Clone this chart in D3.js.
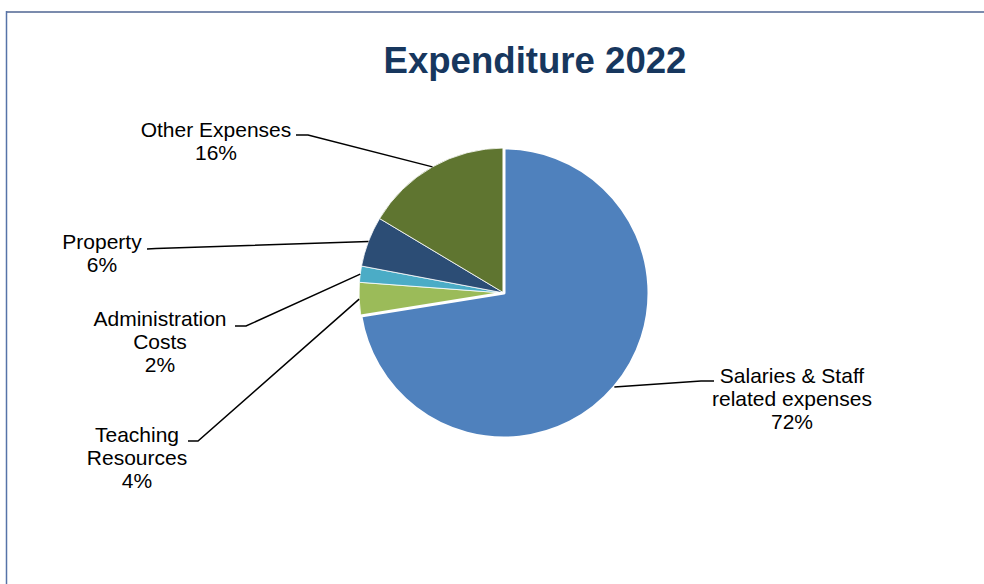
<!DOCTYPE html>
<html>
<head>
<meta charset="utf-8">
<script src="https://cdn.jsdelivr.net/npm/d3@7"></script>
<style>
  html, body { margin: 0; padding: 0; background: #fff; }
  svg { display: block; font-family: "Liberation Sans", Arial, sans-serif; }
</style>
</head>
<body>
<div id="chart"></div>
<script>
// Chart data
const categories = ["Salaries & Staff related expenses", "Teaching Resources", "Administration Costs", "Property", "Other Expenses"];
const labelLines = [["Salaries & Staff", "related expenses"], ["Teaching", "Resources"], ["Administration", "Costs"], ["Property"], ["Other Expenses"]];
const shares = [72.4, 3.7, 1.8, 5.6, 16.4];
const colors = ["#4f81bd", "#9bbb59", "#4bacc6", "#2c4d75", "#5f7530"];
const title = "Expenditure 2022";

const width = 984, height = 584;
const cx = 504, cy = 293, radius = 145;

// where each data label sits: text centre x, first baseline y, leader elbow and end
const labelLayout = [
  { x: 792, y: 383, elbow: [701, 381], end: [714, 381] },
  { x: 137, y: 442, elbow: [198, 441], end: [188, 441] },
  { x: 160, y: 326, elbow: [246, 326], end: [235, 326] },
  { x: 102, y: 249, elbow: [156, 248.5], end: [147, 249] },
  { x: 216, y: 137, elbow: [308, 135], end: [296, 135] }
];

const svg = d3.select("#chart").append("svg")
    .attr("width", width)
    .attr("height", height);

// chart area frame (runs off the right / bottom of the picture)
svg.append("line")
    .attr("x1", 6).attr("x2", width).attr("y1", 12).attr("y2", 12)
    .attr("stroke", "#7b8bad").attr("stroke-width", 2.2);
svg.append("line")
    .attr("x1", 6.5).attr("x2", 6.5).attr("y1", 11).attr("y2", height)
    .attr("stroke", "#5673a8").attr("stroke-width", 1.5);

svg.append("text")
    .attr("x", 535)
    .attr("y", 73)
    .attr("text-anchor", "middle")
    .attr("font-size", "36.6px")
    .attr("font-weight", "bold")
    .attr("fill", "#17375e")
    .text(title);

const pie = d3.pie()
    .value(d => d)
    .sort(null);

const arcs = pie(shares);

const arc = d3.arc()
    .innerRadius(0)
    .outerRadius(radius);

const g = svg.append("g")
    .attr("transform", `translate(${cx},${cy})`);

g.selectAll("path.slice")
  .data(arcs)
  .join("path")
    .attr("class", "slice")
    .attr("d", arc)
    .attr("fill", (d, i) => colors[i])
    .attr("stroke", "#fff")
    .attr("stroke-width", 0.8);

// the big slice has a heavier white edge
g.append("path")
    .attr("d", arc(arcs[0]))
    .attr("fill", "none")
    .attr("stroke", "#fff")
    .attr("stroke-width", 3)
    .attr("stroke-linejoin", "round");

// leader lines from the slice mid point on the rim to the label
arcs.forEach((d, i) => {
    const mid = (d.startAngle + d.endAngle) / 2;
    const px = cx + radius * Math.sin(mid);
    const py = cy - radius * Math.cos(mid);
    const L = labelLayout[i];
    svg.append("path")
        .attr("d", d3.line()([[px, py], L.elbow, L.end]))
        .attr("fill", "none")
        .attr("stroke", "#000")
        .attr("stroke-width", 1.5);
});

// data labels
arcs.forEach((d, i) => {
    const L = labelLayout[i];
    const lines = labelLines[i].concat([Math.round(shares[i]) + "%"]);
    const t = svg.append("text")
        .attr("text-anchor", "middle")
        .attr("font-size", "21px")
        .attr("fill", "#000");
    lines.forEach((s, k) => {
        t.append("tspan")
            .attr("x", L.x)
            .attr("y", L.y + k * 23)
            .text(s);
    });
});
</script>
</body>
</html>
